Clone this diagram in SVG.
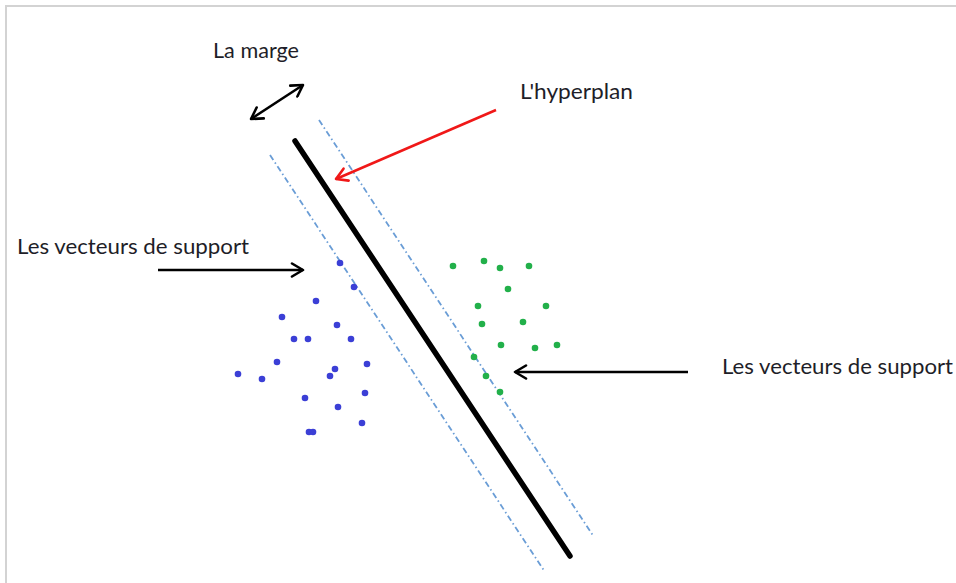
<svg xmlns="http://www.w3.org/2000/svg" width="956" height="583" viewBox="0 0 956 583">
  <style>
    .lbl { font-family: Lato, "Open Sans", "Liberation Sans", sans-serif; font-size: 22px; fill: #1e1e28; }
    .frame { stroke: #d3d3d3; stroke-width: 2; fill: none; }
    .hyper { stroke: #000; stroke-width: 5.5; stroke-linecap: round; }
    .margin { stroke: #6a9dd6; stroke-width: 1.8; stroke-dasharray: 6 3 1.5 3; fill: none; }
    .arr { stroke: #000; stroke-width: 2.5; fill: none; }
    .arr-red { stroke: #f01818; stroke-width: 2.5; fill: none; }
    .neg circle { fill: #3b3fd6; }
    .pos circle { fill: #22b04a; }
  </style>
  <defs>
    <marker id="head" markerUnits="userSpaceOnUse" markerWidth="16" markerHeight="16" viewBox="0 0 16 16" refX="14" refY="8" orient="auto-start-reverse">
      <path d="M3,1.5 L14,8 L3,14.5" fill="none" stroke="#000" stroke-width="2.6" stroke-linecap="round" stroke-linejoin="round"/>
    </marker>
    <marker id="head-red" markerUnits="userSpaceOnUse" markerWidth="16" markerHeight="16" viewBox="0 0 16 16" refX="14" refY="8" orient="auto">
      <path d="M3,1.5 L14,8 L3,14.5" fill="none" stroke="#f01818" stroke-width="2.6" stroke-linecap="round" stroke-linejoin="round"/>
    </marker>
  </defs>

  <rect width="956" height="583" fill="#fff"/>
  <!-- outer frame: top and left edges only -->
  <path class="frame" d="M6,583 L6,6 L956,6"/>

  <!-- separating hyperplane and its two margin boundaries -->
  <g id="hyperplane">
    <line class="hyper" x1="295" y1="141" x2="570" y2="556"/>
  </g>
  <g id="margin-lines">
    <line class="margin" x1="270" y1="155" x2="545" y2="572"/>
    <line class="margin" x1="319" y1="120" x2="594" y2="537"/>
  </g>

  <!-- class A samples -->
  <g id="class-a" class="neg">
    <circle cx="340" cy="263" r="3.3"/>
    <circle cx="354" cy="287" r="3.3"/>
    <circle cx="316" cy="301" r="3.3"/>
    <circle cx="282" cy="317" r="3.3"/>
    <circle cx="337" cy="325" r="3.3"/>
    <circle cx="294" cy="339" r="3.3"/>
    <circle cx="308" cy="339" r="3.3"/>
    <circle cx="351" cy="339" r="3.3"/>
    <circle cx="277" cy="362" r="3.3"/>
    <circle cx="367" cy="364" r="3.3"/>
    <circle cx="238" cy="374" r="3.3"/>
    <circle cx="262" cy="379" r="3.3"/>
    <circle cx="335" cy="369" r="3.3"/>
    <circle cx="330" cy="376" r="3.3"/>
    <circle cx="305" cy="398" r="3.3"/>
    <circle cx="365" cy="393" r="3.3"/>
    <circle cx="338" cy="407" r="3.3"/>
    <circle cx="362" cy="423" r="3.3"/>
    <circle cx="309" cy="432" r="3.3"/>
    <circle cx="313" cy="432" r="3.3"/>
  </g>

  <!-- class B samples -->
  <g id="class-b" class="pos">
    <circle cx="453" cy="266" r="3.3"/>
    <circle cx="484" cy="261" r="3.3"/>
    <circle cx="500" cy="268" r="3.3"/>
    <circle cx="529" cy="266" r="3.3"/>
    <circle cx="508" cy="289" r="3.3"/>
    <circle cx="478" cy="306" r="3.3"/>
    <circle cx="546" cy="306" r="3.3"/>
    <circle cx="482" cy="324" r="3.3"/>
    <circle cx="523" cy="322" r="3.3"/>
    <circle cx="501" cy="345" r="3.3"/>
    <circle cx="535" cy="348" r="3.3"/>
    <circle cx="557" cy="345" r="3.3"/>
    <circle cx="474" cy="357" r="3.3"/>
    <circle cx="486" cy="376" r="3.3"/>
    <circle cx="500" cy="392" r="3.3"/>
  </g>

  <!-- labels -->
  <g id="label-marge">
    <text class="lbl" x="213" y="58" textLength="86" lengthAdjust="spacingAndGlyphs">La marge</text>
  </g>
  <g id="label-hyperplan">
    <text class="lbl" x="520" y="99" textLength="113" lengthAdjust="spacingAndGlyphs">L'hyperplan</text>
  </g>
  <g id="label-support-left">
    <text class="lbl" x="17" y="254" textLength="232" lengthAdjust="spacingAndGlyphs">Les vecteurs de support</text>
  </g>
  <g id="label-support-right">
    <text class="lbl" x="722" y="374" textLength="231" lengthAdjust="spacingAndGlyphs">Les vecteurs de support</text>
  </g>

  <!-- pointer arrows -->
  <g id="connectors">
    <line class="arr" x1="251" y1="119" x2="303" y2="85" marker-start="url(#head)" marker-end="url(#head)"/>
    <line class="arr-red" x1="496" y1="110" x2="336" y2="179" marker-end="url(#head-red)"/>
    <line class="arr" x1="158" y1="270" x2="303" y2="270" marker-end="url(#head)"/>
    <line class="arr" x1="688" y1="372" x2="515" y2="372" marker-end="url(#head)"/>
  </g>
</svg>
